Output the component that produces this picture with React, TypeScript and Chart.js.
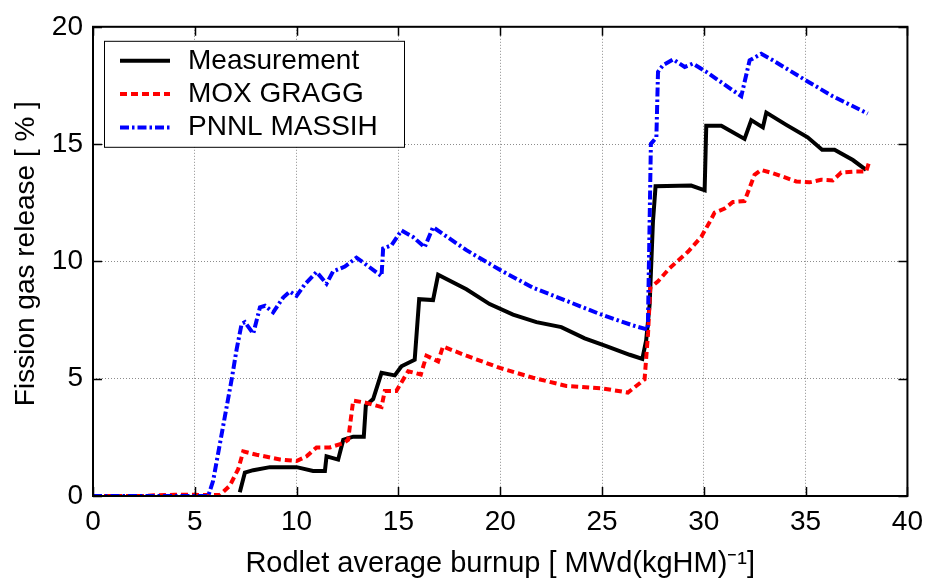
import React, { useEffect, useRef } from "react";
import { Chart, registerables } from "chart.js";
Chart.register(...registerables);

// ---- data ----
const measX = [7.21, 7.46, 7.87, 8.69, 10.0, 10.81, 11.39, 11.47, 12.04, 12.29, 12.78, 13.3, 13.4, 13.76, 14.17, 14.82, 15.15, 15.8, 16.02, 16.7, 16.95, 18.34, 19.48, 20.63, 21.78, 23.0, 24.15, 25.21, 26.36, 26.98, 27.17, 27.34, 27.5, 27.63, 29.38, 30.04, 30.12, 30.86, 32.0, 32.33, 32.9, 33.07, 34.05, 35.1, 35.81, 36.42, 37.32, 37.97];
const measY = [0.16, 1.0, 1.1, 1.23, 1.23, 1.07, 1.07, 1.69, 1.55, 2.39, 2.53, 2.53, 3.86, 4.13, 5.25, 5.14, 5.53, 5.81, 8.39, 8.35, 9.43, 8.81, 8.18, 7.73, 7.41, 7.2, 6.72, 6.39, 6.02, 5.84, 6.64, 8.18, 11.67, 13.2, 13.23, 13.03, 15.78, 15.78, 15.22, 16.02, 15.71, 16.34, 15.82, 15.29, 14.76, 14.76, 14.32, 13.9];

const moxX = [0, 2.5, 3.0, 4.0, 5.0, 5.8, 6.23, 6.72, 7.13, 7.38, 8.03, 9.18, 10.0, 10.49, 10.98, 11.63, 12.29, 12.53, 12.78, 13.43, 14.17, 14.33, 14.9, 15.48, 16.1, 16.38, 16.95, 17.19, 18.34, 19.98, 21.61, 23.25, 23.98, 25.05, 26.27, 27.09, 27.26, 27.37, 27.75, 28.32, 29.22, 29.87, 30.28, 30.53, 31.02, 31.43, 32.0, 32.49, 32.82, 33.39, 34.54, 35.19, 35.76, 36.33, 36.75, 37.4, 37.97, 38.1];
const moxY = [0, 0, 0.03, 0.05, 0.05, 0.04, 0.04, 0.44, 1.14, 1.9, 1.76, 1.56, 1.49, 1.69, 2.07, 2.07, 2.25, 2.39, 4.07, 3.97, 3.79, 4.48, 4.48, 5.32, 5.18, 5.98, 5.74, 6.37, 5.98, 5.46, 5.04, 4.69, 4.65, 4.58, 4.41, 4.97, 6.92, 8.88, 9.15, 9.71, 10.41, 11.04, 11.67, 12.08, 12.25, 12.53, 12.57, 13.69, 13.9, 13.76, 13.41, 13.37, 13.48, 13.45, 13.79, 13.83, 13.83, 14.18];

const pnnlX = [0, 5.66, 5.9, 6.4, 6.81, 7.05, 7.3, 7.46, 7.87, 8.2, 8.45, 8.85, 9.34, 9.67, 10.0, 10.4, 10.98, 11.47, 11.79, 12.37, 12.94, 13.43, 14.17, 14.25, 14.66, 15.15, 15.72, 16.29, 16.7, 18.34, 19.98, 21.61, 23.25, 24.88, 26.52, 27.25, 27.34, 27.4, 27.67, 27.75, 27.99, 28.5, 29.06, 29.46, 30.12, 31.84, 32.25, 32.82, 33.39, 35.1, 36.33, 38.05];
const pnnlY = [0, 0, 0.65, 3.02, 4.97, 6.23, 7.34, 7.41, 6.92, 8.04, 8.11, 7.83, 8.46, 8.71, 8.53, 9.02, 9.55, 9.05, 9.57, 9.78, 10.16, 9.85, 9.37, 10.55, 10.69, 11.32, 11.04, 10.6, 11.46, 10.48, 9.64, 8.88, 8.32, 7.76, 7.27, 7.09, 11.8, 15.01, 15.29, 18.08, 18.36, 18.61, 18.29, 18.43, 18.08, 17.04, 18.57, 18.85, 18.57, 17.67, 17.04, 16.3];

const seriesLabels = ["Measurement", "MOX GRAGG", "PNNL MASSIH"];
const xTickValues = [0, 5, 10, 15, 20, 25, 30, 35, 40];
const yTickValues = [0, 5, 10, 15, 20];
const xTitle = "Rodlet average burnup [ MWd(kgHM)\u207B\u00B9]";
const yTitle = "  Fission gas release [ % ]";

const FONT = "'Liberation Sans', Arial, Helvetica, sans-serif";

const toPoints = (xs: number[], ys: number[]) => xs.map((x, i) => ({ x, y: ys[i] }));

const frame = {
  id: "matlabFrame",
  afterDraw(chart: any) {
    const { ctx, chartArea: a, scales } = chart;
    const xs = scales.x, ys = scales.y;
    ctx.save();
    // inner ticks
    ctx.strokeStyle = "#000";
    ctx.lineWidth = 1.5;
    ctx.setLineDash([]);
    const tl = 9;
    ctx.beginPath();
    xTickValues.forEach((v) => {
      const px = Math.round(xs.getPixelForValue(v)) + 0.5;
      ctx.moveTo(px, a.bottom); ctx.lineTo(px, a.bottom - tl);
      ctx.moveTo(px, a.top); ctx.lineTo(px, a.top + tl);
    });
    yTickValues.forEach((v) => {
      const py = Math.round(ys.getPixelForValue(v)) + 0.5;
      ctx.moveTo(a.left, py); ctx.lineTo(a.left + tl, py);
      ctx.moveTo(a.right, py); ctx.lineTo(a.right - tl, py);
    });
    ctx.stroke();
    // box
    ctx.lineWidth = 2;
    ctx.strokeRect(a.left, a.top, a.right - a.left, a.bottom - a.top);

    // legend
    const lx = a.left + 11, ly = a.top + 14, lw = 300, lh = 106;
    ctx.fillStyle = "#fff";
    ctx.fillRect(lx, ly, lw, lh);
    ctx.lineWidth = 1;
    ctx.strokeStyle = "#000";
    ctx.strokeRect(lx + 0.5, ly + 0.5, lw, lh);
    ctx.font = `28px ${FONT}`;
    ctx.textBaseline = "middle";
    ctx.textAlign = "left";
    [0, 1, 2].forEach((di, i) => {
      const ds = chart.data.datasets[di];
      const cy = ly + 20 + i * 33.3;
      ctx.strokeStyle = ds.borderColor;
      ctx.lineWidth = ds.borderWidth;
      ctx.setLineDash(ds.borderDash || []);
      ctx.beginPath();
      ctx.moveTo(lx + 16, cy); ctx.lineTo(lx + 66, cy);
      ctx.stroke();
      ctx.setLineDash([]);
      ctx.fillStyle = "#000";
      ctx.fillText(ds.label, lx + 84, cy);
    });
    ctx.restore();
  },
};

export default function App() {
  const ref = useRef<HTMLCanvasElement | null>(null);
  useEffect(() => {
    document.body.style.margin = "0";
    const canvas = ref.current!;
    const chart = new Chart(canvas, {
      type: "line",
      data: {
        datasets: [
          {
            label: seriesLabels[0],
            data: toPoints(measX, measY),
            borderColor: "#000000",
            borderWidth: 4,
            pointRadius: 0,
            tension: 0,
            fill: false,
            order: 2,
          },
          {
            label: seriesLabels[1],
            data: toPoints(moxX, moxY),
            borderColor: "#ff0000",
            borderWidth: 4,
            borderDash: [7, 4],
            pointRadius: 0,
            tension: 0,
            fill: false,
            order: 1,
          },
          {
            label: seriesLabels[2],
            data: toPoints(pnnlX, pnnlY),
            borderColor: "#0000ff",
            borderWidth: 4,
            borderDash: [9, 3, 2.5, 3],
            pointRadius: 0,
            tension: 0,
            fill: false,
            order: 0,
          },
        ],
      },
      options: {
        animation: false,
        responsive: false,
        maintainAspectRatio: false,
        devicePixelRatio: 1,
        layout: { padding: { left: 0, top: 17, right: 24, bottom: 0 } },
        plugins: { legend: { display: false }, tooltip: { enabled: false } },
        scales: {
          x: {
            type: "linear",
            min: 0,
            max: 40,
            afterBuildTicks: (s: any) => { s.ticks = xTickValues.map((v) => ({ value: v })); },
            afterFit: (s: any) => { s.height = 89; },
            ticks: { color: "#000", font: { family: FONT, size: 28 }, padding: 9, maxRotation: 0 },
            grid: { color: "rgba(0,0,0,0.45)", lineWidth: 1, drawTicks: false },
            border: { display: false, dash: [1, 2] },
            title: { display: true, text: xTitle, color: "#000", font: { family: FONT, size: 29 }, padding: { top: 0, bottom: 4 } },
          },
          y: {
            type: "linear",
            min: 0,
            max: 20,
            afterBuildTicks: (s: any) => { s.ticks = yTickValues.map((v) => ({ value: v })); },
            afterFit: (s: any) => { s.width = 93; },
            ticks: { color: "#000", font: { family: FONT, size: 28 }, padding: 10 },
            grid: { color: "rgba(0,0,0,0.45)", lineWidth: 1, drawTicks: false },
            border: { display: false, dash: [1, 2] },
            title: { display: true, text: yTitle, color: "#000", font: { family: FONT, size: 28 }, padding: { top: 9, bottom: 0 } },
          },
        },
      },
      plugins: [frame],
    } as any);
    return () => chart.destroy();
  }, []);
  return (
    <div style={{ position: "absolute", left: 0, top: 0, width: 932, height: 585, background: "#fff" }}>
      <canvas ref={ref} width={932} height={585} style={{ display: "block", width: 932, height: 585 }} />
    </div>
  );
}
